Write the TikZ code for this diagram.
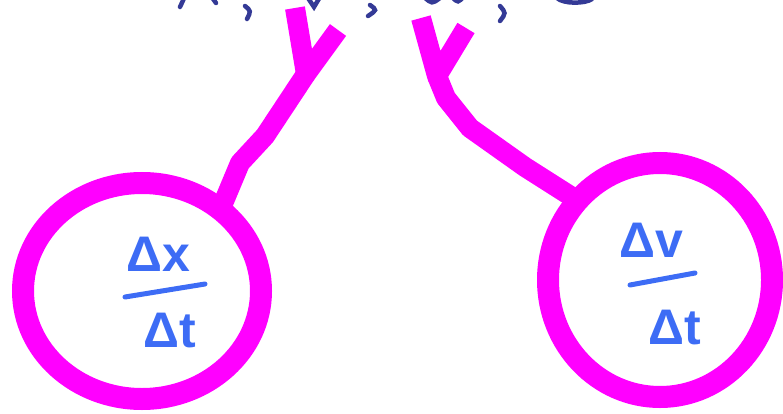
\documentclass[tikz,border=0pt]{standalone}
\usepackage{fontspec}
\setmainfont{Liberation Sans}
\usetikzlibrary{shapes.geometric,calc}
\definecolor{hotpink}{HTML}{FF00FF}
\definecolor{penblue}{HTML}{3D6CF5}
\definecolor{navy}{HTML}{343A96}
\tikzset{
  blob/.style={ellipse,draw=hotpink,line width=22pt,outer sep=0pt,inner sep=0pt},
  blobline/.style={draw=hotpink,line width=20pt,line join=round},
  rate/.style={text=penblue,font=\fontsize{50}{50}\selectfont\bfseries,inner sep=0pt},
  penbar/.style={penblue,line width=5pt,line cap=round},
  scrawl/.style={navy,line width=4.5pt,line cap=round}
}

\begin{document}
\begin{tikzpicture}[x=1pt,y=-1pt]
    \useasboundingbox (0,0) rectangle (783,414);
    \clip (0,0) rectangle (783,414);
    % the two rings
    \node[blob,minimum width=238pt,minimum height=216pt] (leftblob) at (142,291) {};
    \node[blob,minimum width=224pt,minimum height=234pt] (rightblob) at (660,280) {};
    % stems up to the top
    \draw[blobline] (leftblob.46) -- (240,163) -- (265,136) -- (306,74) coordinate (lefttip);
    \draw[blobline] (295,8) -- (lefttip) -- (338,30);
    \draw[blobline] (rightblob.136) -- (525,167) -- (470,128) -- (446,98) -- (437,76) coordinate (righttip);
    \draw[blobline] (421,18) -- (righttip) -- (466,28);
    % rates
    \node[rate] (dx) at (158,254) {Δx};
    \node[rate] (dtleft) at (170,331) {Δt};
    \draw[penbar] (125,297) -- (205,284);
    \node[rate] (dv) at (651,240) {Δv};
    \node[rate] (dtright) at (675,328) {Δt};
    \draw[penbar] (630,285) -- (695,273);
    % cut-off writing along the top
    \draw[scrawl] (180,7) -- (186,-6);
    \draw[scrawl] (211,-4) -- (216,3);
    \draw[scrawl] (245,6) .. controls (251,11) .. (247,19);
    \draw[scrawl] (308,-2) -- (314,7) -- (320,-3);
    \draw[scrawl] (370,5) .. controls (377,10) .. (368,16);
    \draw[scrawl] (424,-3) .. controls (432,4) .. (440,-2);
    \draw[scrawl] (452,-3) .. controls (458,3) .. (464,-4);
    \draw[scrawl] (500,6) .. controls (506,13) .. (500,21);
    \draw[scrawl] (557,-2) .. controls (563,4) and (585,4) .. (592,-1);
\end{tikzpicture}
\end{document}
